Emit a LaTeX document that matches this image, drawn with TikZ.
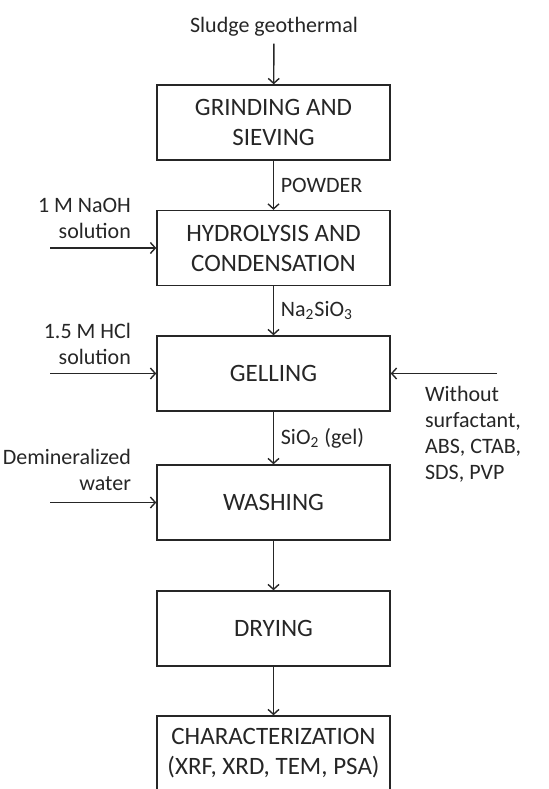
\documentclass[tikz,border=0pt]{standalone}
\usepackage{fontspec}
\setmainfont{Carlito}
\usepackage{tikz}
\usetikzlibrary{arrows.meta}

\tikzset{
  stage/.style={draw, line width=0.7pt, minimum width=116.5pt, minimum height=37.5pt,
    align=center, font=\fontsize{12.5}{15}\selectfont},
  feed/.style={align=right, anchor=east, font=\fontsize{11}{13}\selectfont},
  flow/.style={-{Straight Barb[length=2.5pt, width=5.5pt]}, line width=0.7pt},
  tag/.style={font=\fontsize{11}{13}\selectfont}
}

\begin{document}
\begin{tikzpicture}[x=0.5pt, y=-0.5pt, auto, color=black!85]
    \useasboundingbox (0,0) rectangle (549,789);
    \node[tag] (s) at (274, 27) {Sludge geothermal};
    \node[stage] (a) at (273.5, 122.5) {GRINDING AND\\SIEVING};
    \node[stage] (b) at (273.5, 248) {HYDROLYSIS AND\\CONDENSATION};
    \node[stage] (c) at (273.5, 373.5) {GELLING};
    \node[stage] (d) at (273.5, 502.5) {WASHING};
    \node[stage] (e) at (273.5, 628.5) {DRYING};
    \node[stage] (f) at (273.5, 753.5) {CHARACTERIZATION\\(XRF, XRD, TEM, PSA)};
    \node[feed] (p) at (138, 218) {1 M NaOH\\solution};
    \node[feed] (q) at (138, 344) {1.5 M HCl\\solution};
    \node[feed] (r) at (138, 470) {Demineralized\\water};
    \node[tag, align=left, anchor=west] (w) at (418, 434) {Without\\surfactant,\\ABS, CTAB,\\SDS, PVP};
    \coordinate (p0) at (50, 248);
    \coordinate (q0) at (50, 373.5);
    \coordinate (r0) at (50, 502.5);
    \coordinate (w0) at (497, 373.5);
    \draw [flow] (s) -- (a);
    \draw [flow] (a) to node[tag] {POWDER} (b);
    \draw [flow] (b) to node[tag] {Na\textsubscript{2}SiO\textsubscript{3}} (c);
    \draw [flow] (c) to node[tag] {SiO\textsubscript{2} (gel)} (d);
    \draw [flow] (d) -- (e);
    \draw [flow] (e) -- (f);
    \draw [flow] (p0) -- (b);
    \draw [flow] (q0) -- (c);
    \draw [flow] (r0) -- (d);
    \draw [flow] (w0) -- (c);
  \end{tikzpicture}
\end{document}
